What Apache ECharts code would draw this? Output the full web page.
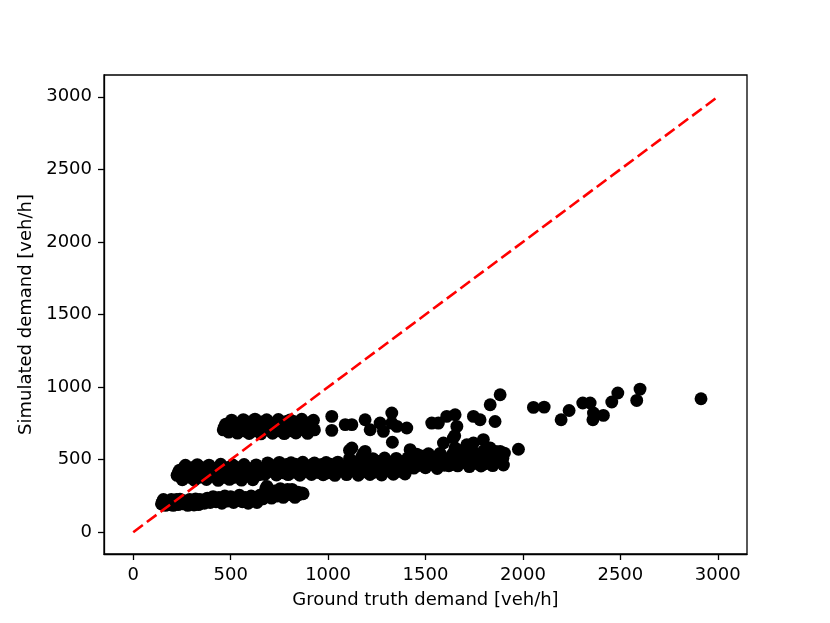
<!DOCTYPE html>
<html>
<head>
<meta charset="utf-8">
<script src="https://cdn.jsdelivr.net/npm/echarts@6/dist/echarts.min.js"></script>
<style>
  html, body { margin: 0; padding: 0; background: #fff; }
  #main { width: 830px; height: 623px; }
</style>
</head>
<body>
<div id="main"></div>
<script>
// [ground truth, simulated] pairs
var lowerBand = [
  [145,195],[155,225],[165,185],[175,210],[185,190],[195,225],[205,185],[215,215],[230,190],[240,228],
  [255,195],[265,215],[280,185],[290,225],[305,200],[320,230],[335,190],[350,215],[365,200],[380,235],
  [395,205],[410,245],[425,210],[440,240],[455,200],[470,250],[485,215],[500,245],[515,205],[530,235],
  [545,255],[560,210],[575,240],[590,200],[605,250],[620,225],[635,205],[650,255],[665,230],[680,300],
  [686,316],[695,260],[710,235],[725,285],[740,250],[755,300],[770,240],[785,280],[800,260],[815,295],
  [830,240],[845,275],[866,271],[872,265]
];
var lowerFill = [
  [150,210],[170,195],[190,210],[210,200],[222,225],[248,208],[272,200],[298,212],[312,188],[328,210],
  [342,225],[358,208],[372,220],[388,215],[402,225],[418,230],[432,222],[448,222],[462,230],[478,230],
  [492,230],[508,225],[522,220],[538,220],[552,232],[568,225],[582,225],[598,225],[612,240],[628,240],
  [642,230],[658,240],[672,260],[702,280],[718,255],[732,265],[748,275],[762,265],[778,260],[792,295],
  [808,280],[822,270],[838,255],[852,260]
];
var middleBand = [
  [225,392],[238,428],[252,362],[268,461],[283,398],[297,433],[314,358],[329,466],[343,391],[358,427],
  [376,363],[389,462],[404,397],[421,434],[436,357],[449,468],[466,393],[479,426],[494,364],[511,463],
  [524,399],[541,431],[556,359],[569,467],[586,394],[601,429],[614,362],[631,464],[646,396],
  [660,425],[675,398],[690,478],[705,452],[720,427],[735,394],[750,481],[765,456],[780,423],[795,397],
  [810,479],[825,453],[840,428],[855,393],[870,482],[885,455],[900,424],[915,398],[930,477],[945,457],
  [960,426],[975,396],[990,480],[1005,452],[1020,429],[1035,392],[1050,483],[1065,454],
  [1080,433],[1095,397],[1110,508],[1125,468],[1140,436],[1155,393],[1170,512],[1185,471],[1200,432],
  [1215,398],[1230,507],[1245,469],[1260,437],[1275,394],[1290,511],[1305,473],[1320,434],[1335,399],
  [1350,509],[1365,467],[1380,438],[1395,401],
  [1410,512],[1425,477],[1440,442],[1455,538],[1470,508],[1485,473],[1500,444],[1515,541],[1530,511],
  [1545,478],[1560,439],[1575,543],[1590,507],
  [1605,476],[1620,458],[1635,527],[1650,492],[1665,457],[1680,561],[1695,523],[1710,494],[1725,452],
  [1740,558],[1755,528],[1770,489],[1785,456],[1800,562],[1815,521],[1830,493],[1845,459],[1860,557],
  [1875,526],[1890,488],[1900,463],[1905,545],
  [1110,565],[1180,540],[1122,580],[1190,557],[1330,620],[1421,569],[1592,615],[1643,649],[1652,580],
  [1712,603],[1746,615],[1797,638],[1832,580],[1883,557],[1977,572],[1650,665]
];
var middleFill = [
  [232,412],[246,378],[261,447],[276,412],[290,378],[306,447],[321,412],[336,378],[351,447],[366,412],
  [382,378],[397,447],[412,412],[428,378],[443,447],[458,412],[472,378],[487,447],[502,412],[518,378],
  [533,447],[548,412],[562,378],[578,447],[593,412],[608,378],[622,447],[638,412],
  [667,440],[682,410],[697,466],[712,441],[727,411],[742,469],[757,438],[772,409],[787,467],[802,442],
  [817,412],[832,468],[847,439],[862,408],[877,466],[892,441],[907,410],[922,469],[937,440],[952,411],
  [967,467],[982,438],[997,409],[1012,468],[1027,441],[1042,412],[1057,466],[1072,439],
  [1087,452],[1102,415],[1117,489],[1132,453],[1147,414],[1162,491],[1177,450],[1192,416],[1207,488],
  [1222,454],[1237,413],[1252,490],[1267,451],[1282,417],[1297,492],[1312,452],[1327,415],[1342,489],
  [1357,450],[1372,418],[1387,487],[1402,455],
  [1417,458],[1432,525],[1447,492],[1462,459],[1477,526],[1492,491],[1507,457],[1522,524],[1537,493],
  [1552,460],[1567,527],[1582,490],[1597,461],
  [1612,507],[1627,472],[1642,543],[1657,508],[1672,473],[1687,541],[1702,506],[1717,471],[1732,544],
  [1747,509],[1762,474],[1777,540],[1792,505],[1807,472],[1822,543],[1837,508],[1852,475],[1867,541],
  [1882,506],[1897,510]
];
var upperBand = [
  [462,705],[475,745],[490,690],[505,772],[520,718],[535,683],[550,748],[565,776],[580,712],[595,680],
  [610,743],[625,779],[640,716],[655,678],[670,749],[685,775],[700,713],[715,682],[730,746],[745,777],
  [760,719],[775,679],[790,744],[805,774],[820,714],[835,684],[850,747],[865,778],[880,711],[895,681],
  [910,742],[925,771]
];
var upperFill = [
  [468,725],[482,710],[497,730],[512,745],[527,697],[542,730],[557,762],[572,697],[587,730],[602,762],
  [617,697],[632,730],[647,762],[662,697],[677,730],[692,762],[707,697],[722,730],[737,762],[752,697],
  [767,730],[782,762],[797,697],[812,730],[827,762],[842,697],[857,730],[872,762],[887,697],[902,730],
  [917,762],[930,705]
];
var sparsePoints = [
  [1019,798],[1019,702],[1088,741],[1122,741],[1190,775],[1216,706],[1267,752],[1284,695],[1327,821],
  [1327,752],[1353,729],[1404,718],[1532,752],[1566,752],[1609,798],[1652,809],[1661,729],[1746,798],
  [1780,775],[1857,763],[1832,878],[1883,947],
  [2054,860],[2109,862],[2196,775],[2237,839],[2307,890],[2345,890],[2359,775],[2362,821],[2413,805],
  [2456,897],[2487,959],[2601,986],[2584,908],[2914,920]
];
var identityLine = [[0,0],[3000,3000]];
var tickValues = [0,500,1000,1500,2000,2500,3000];

var points = lowerBand.concat(lowerFill, middleBand, middleFill, upperBand, upperFill, sparsePoints);

var chart = echarts.init(document.getElementById('main'));
var font = 'DejaVu Sans';

function makeAxis(name, gap) {
    return {
        type: 'value',
        min: -150,
        max: 3150,
        name: name,
        nameLocation: 'middle',
        nameGap: gap,
        nameTextStyle: { color: '#000', fontSize: 18, fontFamily: font },
        splitLine: { show: false },
        axisLine: { show: true, onZero: false, lineStyle: { color: '#000', width: 1.3 } },
        axisTick: { show: true, inside: false, length: 6, customValues: tickValues,
                    lineStyle: { color: '#000', width: 1.3 } },
        axisLabel: { color: '#000', fontSize: 18, fontFamily: font, margin: 12,
                     customValues: tickValues,
                     formatter: function (v) { return String(v); } }
    };
}

var option = {
    animation: false,
    backgroundColor: '#fff',
    grid: {
        left: 104, right: 83, top: 75, bottom: 69,
        show: true, borderColor: '#000', borderWidth: 1.3,
        containLabel: false, outerBoundsMode: 'none'
    },
    xAxis: makeAxis('Ground truth demand [veh/h]', 37),
    yAxis: makeAxis('Simulated demand [veh/h]', 51),
    series: [
        {
            type: 'scatter',
            data: points,
            symbol: 'circle',
            symbolSize: 12.9,
            itemStyle: { color: '#000', opacity: 1 },
            z: 2
        },
        {
            type: 'line',
            data: identityLine,
            symbol: 'none',
            lineStyle: { color: '#ff0000', width: 2.6, type: [12, 5] },
            z: 3
        }
    ]
};
chart.setOption(option);
</script>
</body>
</html>
